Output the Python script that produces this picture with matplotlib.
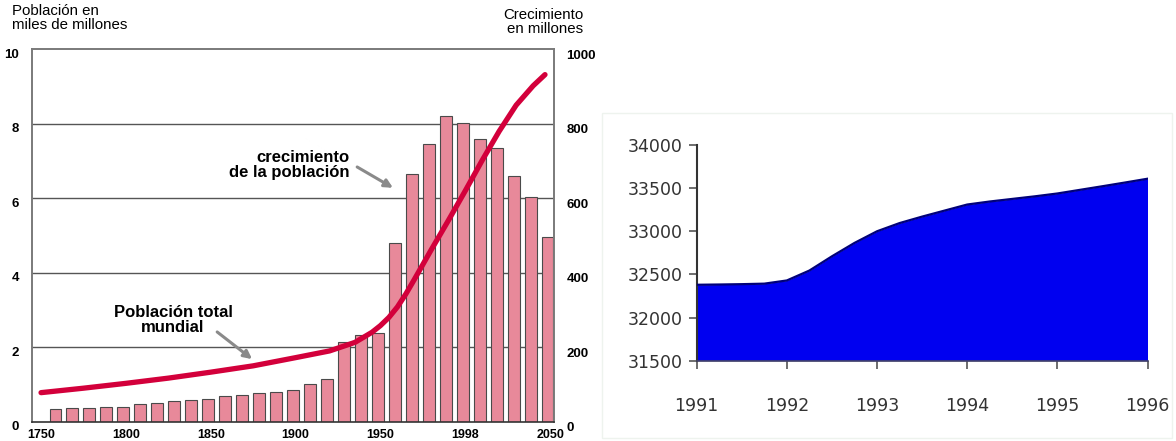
import matplotlib
matplotlib.use('Agg')
import matplotlib.pyplot as plt
from matplotlib.transforms import offset_copy
from matplotlib.patches import Rectangle

# ---------------- data: left chart ----------------
decades = list(range(1760, 2051, 10))
growth_millions = [33, 36, 36, 40, 40, 47, 51, 55, 57, 60,
                   68, 72, 78, 81, 84, 101, 115, 213, 233, 237,
                   481, 665, 747, 822, 803, 759, 734, 660, 603, 497]
pop_years = [1750, 1775, 1800, 1825, 1850, 1875, 1900, 1920, 1935, 1945,
             1950, 1955, 1960, 1965, 1970, 1980, 1990, 2000, 2010, 2020,
             2030, 2040, 2047]
pop_billions = [0.78, 0.90, 1.03, 1.17, 1.33, 1.50, 1.72, 1.90, 2.13, 2.40,
                2.58, 2.80, 3.08, 3.43, 3.82, 4.62, 5.40, 6.20, 7.02, 7.80,
                8.50, 9.02, 9.32]
xtick_pos = [1750, 1800, 1850, 1900, 1950, 2000, 2050]
xtick_labels = ['1750', '1800', '1850', '1900', '1950', '1998', '2050']
left_ticks = [0, 2, 4, 6, 8, 10]
right_ticks = [0, 200, 400, 600, 800, 1000]

# ---------------- data: right chart ----------------
r_time = [1991.0, 1991.25, 1991.5, 1991.75, 1992.0, 1992.25, 1992.5, 1992.75,
          1993.0, 1993.25, 1993.5, 1993.75, 1994.0, 1994.25, 1994.5, 1994.75,
          1995.0, 1995.25, 1995.5, 1995.75, 1996.0]
r_values = [32380, 32383, 32387, 32393, 32430, 32545, 32710, 32865,
            33000, 33095, 33170, 33240, 33310, 33345, 33375, 33405,
            33438, 33480, 33522, 33565, 33609]
r_xticks = [1991, 1992, 1993, 1994, 1995, 1996]
r_yticks = [31500, 32000, 32500, 33000, 33500, 34000]

W, H = 1176, 441
fig = plt.figure(figsize=(W / 100, H / 100), dpi=100)

def rect(x0, y0, x1, y1):
    return [x0 / W, 1 - y1 / H, (x1 - x0) / W, (y1 - y0) / H]

font = 'Liberation Sans'

# ---------- left chart ----------
ax2 = fig.add_axes(rect(31.7, 49.3, 554, 421.7))  # right scale (bars, grid)
ax = fig.add_axes(rect(31.7, 49.3, 554, 421.7), sharex=ax2)  # left scale (line)
ax.set_zorder(ax2.get_zorder() + 1)
ax.patch.set_visible(False)

ax2.set_xlim(1744.5, 2052.3)
ax2.set_ylim(0, 1000)
ax.set_ylim(0, 10)

for yv in right_ticks[1:-1]:
    ax2.axhline(yv, color='#555555', lw=1.0, zorder=1)
ax2.bar([d - 1.5 for d in decades], growth_millions, width=7.0,
        color='#E8899A', edgecolor='#4a4a4a', linewidth=0.8, zorder=2)

ax.plot(pop_years, pop_billions, color='#D3003B', lw=3.8,
        solid_capstyle='round', solid_joinstyle='round', zorder=5)

for s in ax.spines.values():
    s.set_visible(False)
for s in ['left', 'top', 'right']:
    ax2.spines[s].set_color('#7a7a7a')
    ax2.spines[s].set_linewidth(1.4)
ax2.spines['bottom'].set_color('#333333')
ax2.spines['bottom'].set_linewidth(1.2)

ax2.yaxis.tick_right()
ax2.set_yticks(right_ticks)
ax2.set_yticklabels([str(v) for v in right_ticks])
ax2.tick_params(axis='y', length=0, pad=9)
ax.yaxis.tick_left()
ax.set_yticks(left_ticks)
ax.set_yticklabels([str(v) for v in left_ticks])
ax.tick_params(axis='y', length=0, pad=9)
ax2.set_xticks(xtick_pos)
ax2.set_xticklabels(xtick_labels)
ax2.tick_params(axis='x', length=0, pad=5)
ax.tick_params(axis='x', length=0, labelbottom=False)

for lab in ax.get_yticklabels():
    lab.set_fontfamily(font); lab.set_fontweight('bold'); lab.set_fontsize(9.5)
    lab.set_transform(offset_copy(lab.get_transform(), fig=fig, x=0, y=-4, units='dots'))
for lab in ax2.get_yticklabels():
    lab.set_fontfamily(font); lab.set_fontweight('bold'); lab.set_fontsize(9.5)
    lab.set_transform(offset_copy(lab.get_transform(), fig=fig, x=0, y=-5, units='dots'))
for lab in ax2.get_xticklabels():
    lab.set_fontfamily(font); lab.set_fontweight('bold'); lab.set_fontsize(9)

fig.text(12 / W, 1 - 4 / H, 'Población en\nmiles de millones', ha='left', va='top',
         fontfamily=font, fontsize=10.8, linespacing=1.0)
fig.text(583 / W, 1 - 8 / H, 'Crecimiento\nen millones', ha='right', va='top',
         fontfamily=font, fontsize=10.8, linespacing=1.0, multialignment='right')

arrow = dict(arrowstyle='-|>', color='#8a8a8a', lw=2.2, mutation_scale=12,
             shrinkA=0, shrinkB=0)
ax.text(1931.5, 6.9, 'crecimiento\nde la población', ha='right', va='center',
        multialignment='right', fontfamily=font, fontweight='bold',
        fontsize=12, linespacing=1.0)
ax.annotate('', xy=(1957.4, 6.28), xytext=(1936.3, 6.84), arrowprops=dict(arrow))
ax.text(1827.8, 2.74, 'Población total\nmundial', ha='center', va='center',
        multialignment='center', fontfamily=font, fontweight='bold',
        fontsize=12, linespacing=1.0)
ax.annotate('', xy=(1874.4, 1.68), xytext=(1853.8, 2.41), arrowprops=dict(arrow))

# ---------- right chart ----------
fig.patches.append(Rectangle((602 / W, 1 - 438 / H), (1172 - 602) / W, (438 - 113) / H,
                             transform=fig.transFigure, fill=False,
                             edgecolor='#eef3ee', lw=1.0))
ax3 = fig.add_axes(rect(696.7, 145, 1147.5, 360.7))
ax3.fill_between(r_time, 31500, r_values, color='#0000F0', lw=0, zorder=2)
ax3.plot(r_time, r_values, color='#00007a', lw=1.6, zorder=3)
ax3.set_xlim(1991, 1996)
ax3.set_ylim(31500, 34000)
ax3.set_xticks(r_xticks)
ax3.set_yticks(r_yticks)
ax3.set_xticklabels([str(v) for v in r_xticks])
ax3.set_yticklabels([str(v) for v in r_yticks])
for s in ['top', 'right']:
    ax3.spines[s].set_visible(False)
ax3.spines['left'].set_color('#333333')
ax3.spines['left'].set_linewidth(1.5)
ax3.spines['bottom'].set_color('#444466')
ax3.spines['bottom'].set_linewidth(1.2)
ax3.tick_params(axis='both', direction='out', length=6, width=1.2,
                color='#555555', labelcolor='#333333', labelsize=12.5)
ax3.tick_params(axis='y', pad=4)
ax3.tick_params(axis='x', pad=20)
for lab in ax3.get_xticklabels() + ax3.get_yticklabels():
    lab.set_fontfamily('DejaVu Sans')

fig.savefig('out.png', dpi=100)
